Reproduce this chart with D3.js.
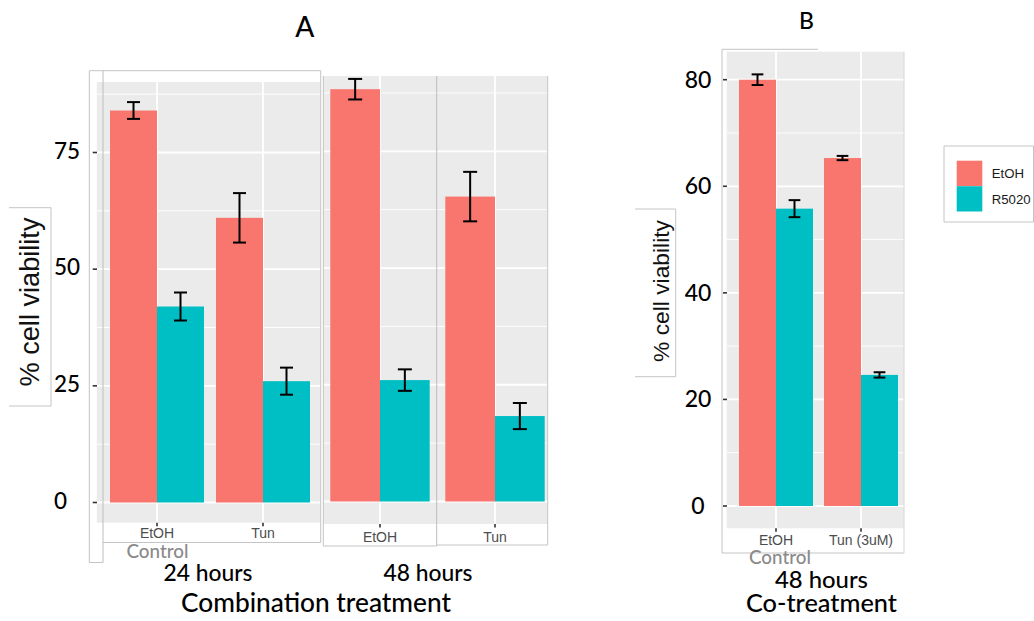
<!DOCTYPE html>
<html>
<head>
<meta charset="utf-8">
<script src="https://cdn.jsdelivr.net/npm/d3@7"></script>
<style>
  body { margin: 0; background: #fff; }
  svg { display: block; }
</style>
</head>
<body>
<script>
// ---------------- DATA ----------------
const seriesNames = ["EtOH", "R5020"];
const seriesColors = ["#F8766D", "#00BFC4"];

// Panel A, 24 hours
const a24Categories = ["EtOH", "Tun"];
const a24EtOH = [84.0, 61.0];
const a24EtOHErr = [1.8, 5.3];
const a24R5020 = [42.0, 26.0];
const a24R5020Err = [3.0, 2.9];

// Panel A, 48 hours
const a48Categories = ["EtOH", "Tun"];
const a48EtOH = [88.3, 65.3];
const a48EtOHErr = [2.2, 5.3];
const a48R5020 = [26.0, 18.3];
const a48R5020Err = [2.3, 2.8];

// Panel B, 48 hours co-treatment
const bCategories = ["EtOH", "Tun (3uM)"];
const bEtOH = [80.0, 65.3];
const bEtOHErr = [1.0, 0.4];
const bR5020 = [55.8, 24.6];
const bR5020Err = [1.6, 0.5];

const aYTicks = [0, 25, 50, 75];
const bYTicks = [0, 20, 40, 60, 80];

// ---------------- DRAW ----------------
const W = 1034, H = 621;
const svg = d3.select("body").append("svg").attr("width", W).attr("height", H);
const BORDER = "#c4c4c4";
const GUIFONT = "'Liberation Sans', Arial, sans-serif";
const LABFONT = "Lato, 'Open Sans', sans-serif";

function fitWidth(t, w) {
  const L = t.node().getComputedTextLength();
  const fs = parseFloat(t.attr("font-size"));
  t.attr("font-size", (fs * w / L).toFixed(2));
  return t;
}
function line(x1, y1, x2, y2, color, sw) {
  svg.append("line").attr("x1", x1).attr("y1", y1).attr("x2", x2).attr("y2", y2)
    .attr("stroke", color || BORDER).attr("stroke-width", sw || 1);
}

function drawPanel(cfg) {
  const g = svg.append("g");
  const y = d3.scaleLinear().domain([0, cfg.refVal]).range([cfg.y0, cfg.yRef]);
  const x = d3.scalePoint().domain(cfg.categories).range(cfg.xCenters);
  const sub = d3.scaleBand().domain(seriesNames).range([-cfg.barW, cfg.barW]).padding(0);

  g.append("rect").attr("x", cfg.left).attr("y", cfg.top)
    .attr("width", cfg.right - cfg.left).attr("height", cfg.bottom - cfg.top).attr("fill", "#EBEBEB");

  const vMax = y.invert(cfg.top), vMin = y.invert(cfg.bottom);
  const minor = d3.range(0, vMax, cfg.minorStep / 2)
    .filter(v => v >= vMin && v <= vMax && Math.abs((v / cfg.minorStep) - Math.round(v / cfg.minorStep)) > 0.01);
  g.selectAll(".minor").data(minor).join("line")
    .attr("x1", cfg.left).attr("x2", cfg.right)
    .attr("y1", d => y(d)).attr("y2", d => y(d))
    .attr("stroke", "#fff").attr("stroke-width", 0.9);
  const major = cfg.ticks.filter(v => v <= vMax);
  g.selectAll(".major").data(major).join("line")
    .attr("x1", cfg.left).attr("x2", cfg.right)
    .attr("y1", d => y(d)).attr("y2", d => y(d))
    .attr("stroke", "#fff").attr("stroke-width", 1.8);
  g.selectAll(".vgrid").data(cfg.categories).join("line")
    .attr("x1", d => x(d)).attr("x2", d => x(d))
    .attr("y1", cfg.top).attr("y2", cfg.bottom)
    .attr("stroke", "#fff").attr("stroke-width", 1.8);

  const rows = [];
  cfg.categories.forEach((c, i) => {
    seriesNames.forEach((s, j) => {
      rows.push({ c, s, j, v: cfg.values[j][i], e: cfg.errors[j][i] });
    });
  });
  g.selectAll(".bar").data(rows).join("rect")
    .attr("x", d => x(d.c) + sub(d.s)).attr("width", sub.bandwidth())
    .attr("y", d => y(d.v)).attr("height", d => y(0) - y(d.v))
    .attr("fill", d => seriesColors[d.j]);

  const eg = g.selectAll(".err").data(rows).join("g")
    .attr("transform", d => `translate(${x(d.c) + sub(d.s) + sub.bandwidth() / 2},0)`);
  eg.append("line").attr("x1", 0).attr("x2", 0)
    .attr("y1", d => y(d.v + d.e)).attr("y2", d => y(d.v - d.e))
    .attr("stroke", "#000").attr("stroke-width", 2);
  eg.append("line").attr("x1", -cfg.cap / 2).attr("x2", cfg.cap / 2)
    .attr("y1", d => y(d.v + d.e)).attr("y2", d => y(d.v + d.e))
    .attr("stroke", "#000").attr("stroke-width", 2);
  eg.append("line").attr("x1", -cfg.cap / 2).attr("x2", cfg.cap / 2)
    .attr("y1", d => y(d.v - d.e)).attr("y2", d => y(d.v - d.e))
    .attr("stroke", "#000").attr("stroke-width", 2);

  g.selectAll(".xt").data(cfg.categories).join("line")
    .attr("x1", d => x(d)).attr("x2", d => x(d))
    .attr("y1", cfg.bottom).attr("y2", cfg.bottom + 3.5)
    .attr("stroke", "#333").attr("stroke-width", 1.6);
  g.selectAll(".xl").data(cfg.categories).join("text")
    .attr("x", d => x(d)).attr("y", cfg.xLabelY)
    .attr("text-anchor", "middle").attr("font-family", GUIFONT)
    .attr("font-size", 14).attr("fill", "#4D4D4D").text(d => d);
  return y;
}

// ---------- Boxes (pasted image frames) ----------
line(89.3, 70.7, 320.7, 70.7);
line(89.3, 70.7, 89.3, 562.5);
line(89.3, 562.5, 103, 562.5);
line(320.7, 70.7, 320.7, 542.5);
line(103, 542.5, 320.7, 542.5);

// ---------- Panel A 24h ----------
const yA24 = drawPanel({
  categories: a24Categories, xCenters: [157, 263],
  values: [a24EtOH, a24R5020], errors: [a24EtOHErr, a24R5020Err],
  left: 96.8, right: 320, top: 82, bottom: 522.7,
  y0: 502.5, yRef: 152.5, refVal: 75, ticks: aYTicks, minorStep: 25,
  barW: 47, cap: 13, xLabelY: 538
});
line(103, 70.7, 103, 562.5, "#bdbdbd");

aYTicks.forEach(v => {
  line(92.7, yA24(v), 97, yA24(v), "#333", 1.6);
});
svg.selectAll(".ayl").data(aYTicks).join("text")
  .attr("x", 54).attr("y", d => yA24(d) + 6)
  .attr("font-family", LABFONT).attr("font-size", 22.5).attr("font-weight", 500).attr("fill", "#000")
  .text(d => d);

// ---------- Panel A 48h ----------
const yA48 = drawPanel({
  categories: a48Categories, xCenters: [380, 495],
  values: [a48EtOH, a48R5020], errors: [a48EtOHErr, a48R5020Err],
  left: 323.3, right: 547.3, top: 76, bottom: 524,
  y0: 501.5, yRef: 151.3, refVal: 75, ticks: aYTicks, minorStep: 25,
  barW: 49.7, cap: 14, xLabelY: 541.5
});
line(323.3, 76, 323.3, 546);
line(323.3, 546, 436.7, 546);
line(436.7, 76, 436.7, 546, "#bdbdbd");
line(436.7, 545, 547.7, 545);
line(547.7, 76, 547.7, 545);

// ---------- Panel B ----------
const yB = drawPanel({
  categories: bCategories, xCenters: [776, 861],
  values: [bEtOH, bR5020], errors: [bEtOHErr, bR5020Err],
  left: 726.7, right: 904, top: 51.7, bottom: 528.3,
  y0: 506, yRef: 79.7, refVal: 80, ticks: bYTicks, minorStep: 20,
  barW: 37, cap: 11.7, xLabelY: 545
});
line(722, 49.3, 818, 49.3);
line(722, 49.3, 722, 553);
line(722, 553, 904, 553);
line(904, 51.7, 904, 553, "#d6d6d6");

bYTicks.forEach(v => {
  line(723, yB(v), 727, yB(v), "#333", 1.6);
});
svg.selectAll(".byl").data(bYTicks).join("text")
  .attr("x", 698).attr("y", d => yB(d) + 8)
  .attr("text-anchor", "middle")
  .attr("font-family", LABFONT).attr("font-size", 23).attr("font-weight", 500).attr("fill", "#000")
  .text(d => d);

// ---------- Y axis titles ----------
line(9, 207.7, 51, 207.7);
line(51, 207.7, 51, 406);
line(9, 406, 51, 406);
fitWidth(svg.append("text").attr("transform", "translate(38.5,302) rotate(-90)")
  .attr("text-anchor", "middle").attr("font-family", GUIFONT).attr("font-size", 27)
  .attr("fill", "#111").text("% cell viability"), 169);
line(635, 209, 675.7, 209);
line(675.7, 209, 675.7, 376.7);
line(635, 376.7, 675.7, 376.7);
fitWidth(svg.append("text").attr("transform", "translate(669,291) rotate(-90)")
  .attr("text-anchor", "middle").attr("font-family", GUIFONT).attr("font-size", 23)
  .attr("fill", "#111").text("% cell viability"), 142);

// ---------- Titles ----------
svg.append("text").attr("x", 304.7).attr("y", 37).attr("text-anchor", "middle")
  .attr("font-family", LABFONT).attr("font-size", 28).attr("font-weight", 500).attr("fill", "#000").text("A");
svg.append("text").attr("x", 806.5).attr("y", 29.3).attr("text-anchor", "middle")
  .attr("font-family", LABFONT).attr("font-size", 23).attr("font-weight", 500).attr("fill", "#000").text("B");

// ---------- Bottom labels ----------
function label(x, y, txt, w, fs, color) {
  const t = svg.append("text").attr("x", x).attr("y", y).attr("text-anchor", "middle")
    .attr("font-family", LABFONT).attr("font-size", fs).attr("font-weight", 500)
    .attr("fill", color || "#000").text(txt);
  fitWidth(t, w);
}
label(157.5, 558, "Control", 62, 18, "#8a8a8a");
label(208, 581, "24 hours", 89, 22);
label(428, 581, "48 hours", 89, 22);
label(316, 612, "Combination treatment", 270, 22);
label(780, 564, "Control", 62, 18, "#8a8a8a");
label(821.5, 587.5, "48 hours", 93, 22);
label(821.5, 611.5, "Co-treatment", 151, 22);

// ---------- Legend ----------
line(944, 146, 1033.5, 146);
line(944, 146, 944, 222);
line(944, 222, 1033.5, 222);
line(1033.5, 146, 1033.5, 222);
const lg = svg.append("g");
lg.selectAll("rect").data(seriesNames).join("rect")
  .attr("x", 956.7).attr("y", (d, i) => 160.7 + i * 25.5)
  .attr("width", 25.6).attr("height", 25.3)
  .attr("fill", (d, i) => seriesColors[i]);
lg.selectAll("text").data(seriesNames).join("text")
  .attr("x", 991.7).attr("y", (d, i) => 178 + i * 26)
  .attr("font-family", GUIFONT).attr("font-size", 13.2).attr("fill", "#1a1a1a")
  .text(d => d);
</script>
</body>
</html>
